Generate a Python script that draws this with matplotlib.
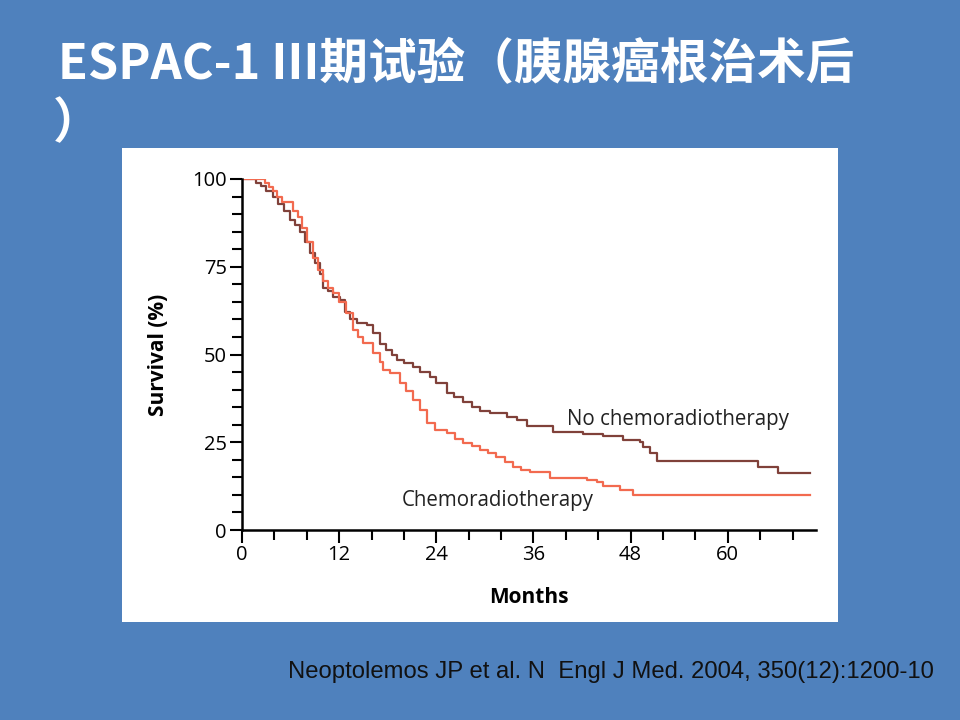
import matplotlib.pyplot as plt
from matplotlib.patches import Rectangle
from matplotlib.ticker import MultipleLocator

# Kaplan-Meier curves (months, survival %)
no_crt_months = [0, 1.7, 2.3, 3.0, 3.8, 4.5, 5.2, 5.9, 6.5, 7.2, 7.8, 8.4, 9.0, 9.6,
                 10.0, 10.6, 11.2, 12.1, 12.7, 13.3, 14.2, 15.4, 16.2, 17.0, 17.8,
                 18.5, 19.1, 20.0, 21.1, 22.0, 23.2, 24.0, 25.3, 26.2, 27.3, 28.4,
                 29.4, 30.6, 32.7, 34.0, 35.2, 38.4, 42.1, 44.6, 47.1, 49.1, 49.5,
                 50.4, 51.2, 63.7, 66.2, 70.1]
no_crt_surv = [100, 99, 98, 96.5, 95, 93, 91, 88.3, 87, 85, 82, 79, 76, 73,
               69, 68, 66.5, 65.5, 62, 60, 59, 58.4, 56, 53, 51.3,
               50, 48.4, 47.5, 46.4, 45, 43.6, 42, 39, 37.9, 36.5, 35,
               34, 33.3, 32.2, 31.3, 29.5, 28.0, 27.3, 26.8, 25.6, 25.2, 23.7,
               21.8, 19.7, 17.9, 16.3, 16.3]

crt_months = [0, 2.8, 3.3, 3.8, 4.3, 4.9, 6.3, 6.9, 7.4, 8.0, 8.8, 9.4, 10.0, 10.6,
              11.2, 12.0, 12.9, 13.7, 14.3, 15.0, 16.2, 17.0, 17.4, 18.3, 19.5,
              20.3, 21.1, 22.0, 22.8, 23.8, 25.3, 26.3, 27.3, 28.4, 29.4, 30.4,
              31.4, 32.5, 33.5, 34.5, 35.6, 38.0, 42.6, 43.8, 44.6, 46.7, 48.3, 70.1]
crt_surv = [100, 99, 97.8, 96.5, 95, 93.5, 91, 89.3, 86, 82, 77.5, 74, 71, 69,
            67.5, 65, 61.8, 57, 55, 53.2, 50.4, 48, 45.6, 44.7, 41.8,
            39.5, 37, 34.2, 30.4, 28.5, 27.6, 26, 24.7, 23.8, 22.8, 21.8,
            20.9, 19.5, 18, 17.2, 16.6, 14.8, 14.3, 13.6, 12.5, 11.5, 10.0, 10.0]

x_major = [0, 12, 24, 36, 48, 60]
y_major = [0, 25, 50, 75, 100]

title_line1 = "ESPAC-1 III期试验（胰腺癌根治术后"
title_line2 = "）"
cite_text = "Neoptolemos JP et al. N  Engl J Med. 2004, 350(12):1200-10"

bg = "#4F81BD"
brown = "#80413A"
orange = "#F26A4F"
plot_font = "Open Sans"
cjk = ["Noto Sans CJK SC", "DejaVu Sans"]

fig = plt.figure(figsize=(9.6, 7.2), dpi=100)
fig.patch.set_facecolor(bg)

# white panel holding the chart
fig.patches.append(Rectangle((122 / 960, 1 - 622 / 720), (838 - 122) / 960, (622 - 148) / 720,
                             transform=fig.transFigure, facecolor="white", edgecolor="none", zorder=-10))

fig.text(58 / 960, 1 - 65 / 720, title_line1, color="white", fontsize=35, fontweight="bold",
         family=cjk, va="center", ha="left")
fig.text(53 / 960, 1 - 124 / 720, title_line2, color="white", fontsize=35, fontweight="bold",
         family=cjk, va="center", ha="left")

fig.text(288 / 960, 1 - 672 / 720, cite_text, color="#111111", fontsize=17.2,
         family="Liberation Sans", va="center", ha="left")

ax = fig.add_axes([242 / 960, 1 - 530 / 720, (816 - 242) / 960, 351 / 720])
ax.set_zorder(5)
ax.set_facecolor("none")
ax.step(no_crt_months, no_crt_surv, where="post", color=brown, lw=1.6)
ax.step(crt_months, crt_surv, where="post", color=orange, lw=1.6)

ax.set_xlim(0, 70.9)
ax.set_ylim(0, 100)
ax.set_xticks(x_major)
ax.set_yticks(y_major)
ax.xaxis.set_minor_locator(MultipleLocator(4))
ax.yaxis.set_minor_locator(MultipleLocator(5))
ax.tick_params(which="both", direction="out", width=1.5, color="black")
ax.tick_params(which="major", length=9, labelsize=14.5, pad=2)
ax.tick_params(which="minor", length=7)
for lab in ax.get_xticklabels() + ax.get_yticklabels():
    lab.set_family(plot_font)

for side in ("top", "right"):
    ax.spines[side].set_visible(False)
for side in ("left", "bottom"):
    ax.spines[side].set_linewidth(1.8)

ax.set_xlabel("Months", family=plot_font, fontsize=15, fontweight="bold", va="center")
ax.xaxis.set_label_coords(0.5, -0.191)
ax.set_ylabel("Survival (%)", family=plot_font, fontsize=15, fontweight="bold", va="center")
ax.yaxis.set_label_coords(-0.146, 0.5)

ax.text(40.1, 31.6, "No chemoradiotherapy", family=plot_font, fontsize=14.8, color="#222222", va="center")
ax.text(19.75, 8.3, "Chemoradiotherapy", family=plot_font, fontsize=14.8, color="#222222", va="center")

fig.savefig("out.png", dpi=100, facecolor=fig.get_facecolor())
